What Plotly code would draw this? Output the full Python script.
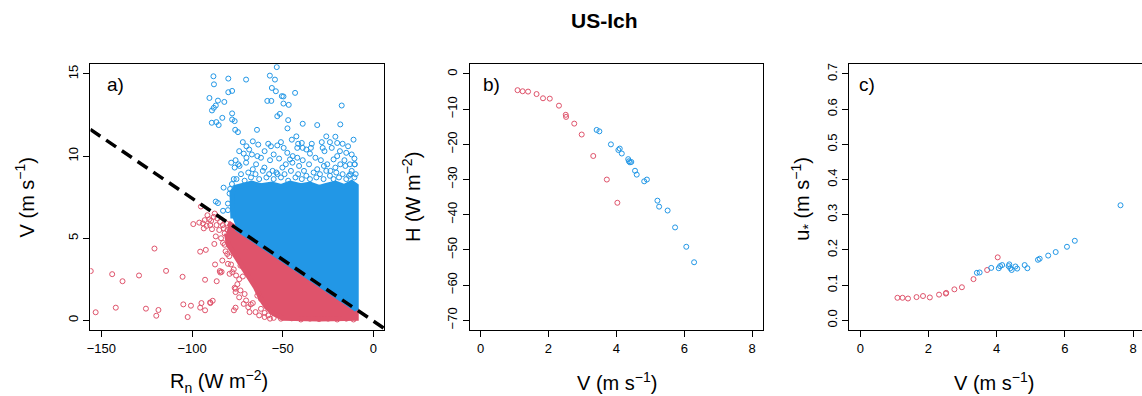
import plotly.graph_objects as go

W, H = 1142, 396
RED = "#DF536B"
BLUE = "#2297E6"
FONT = "Liberation Sans"

# ---------------- Panel a data (Rn, V) ----------------
a_blue_rn = [-88.2, -87.9, -80.0, -70.2, -53.3, -57.1, -54.3,
             -90.4, -85.7, -82.2, -80.0, -77.9, -86.9, -88.0, -89.0,
             -89.1, -86.6, -85.3, -83.3, -77.9, -77.9, -76.5, -76.2, -74.7,
             -64.2, -58.5, -56.3, -56.0, -53.8, -50.5, -49.6, -49.6, -46.7,
             -43.2, -53.0, -51.6, -47.0, -47.4, -39.0, -31.0, -17.5, -18.3, -21.0,
             -45.0, -42.5, -41.5, -39.5, -39.0, -42.0,
             -72.0, -70.0, -66.5, -63.5, -58.0, -56.5, -53.0, -51.0,
             -34.0, -34.5, -28.5, -28.0, -24.0, -23.0, -17.0, -15.0, -10.5, -10.3,
             -71.5, -76.0, -74.5, -70.0, -67.0, -64.0, -62.0, -57.0, -52.0, -47.5,
             -44.5, -42.0, -39.0, -35.0, -29.0, -25.5, -20.0, -16.0, -13.0,
             -78.4, -76.5, -73.8, -70.2, -66.5, -64.7, -60.1, -55.6, -52.9, -50.2,
             -48.3, -44.7, -41.0, -38.3, -35.5, -31.0, -27.3, -23.7, -21.0, -18.3,
             -15.5, -12.8, -10.4,
             -82.6, -86.9, -85.7, -80.2, -79.3, -82.9, -80.2, -78.0, -77.0, -79.0,
             -75.5, -73.0, -71.0, -69.0, -67.5, -65.0, -63.0, -61.0, -59.0, -57.5,
             -55.0, -53.5, -51.0, -49.0, -47.0, -45.5, -43.0, -41.5, -39.5, -37.0,
             -35.0, -33.0, -31.5, -29.5, -27.5, -26.0, -24.0, -22.0, -20.5, -19.0,
             -17.0, -15.0, -13.5, -12.0, -10.5, -9.8,
             -74.0, -68.5, -60.0, -55.0, -49.5, -46.0, -37.0, -32.0, -27.0, -22.0,
             -18.5, -12.0, -14.0, -20.0, -26.0, -11.0]
a_blue_v = [14.86, 14.37, 14.72, 14.66, 15.42, 14.90, 14.66,
            13.54, 13.38, 13.30, 13.89, 13.97, 13.08, 12.94, 12.78,
            12.03, 12.07, 11.89, 12.33, 12.60, 12.23, 12.13, 11.60, 11.46,
            11.60, 13.36, 13.36, 14.15, 13.95, 13.65, 13.63, 13.20, 13.12,
            13.85, 12.43, 12.57, 12.19, 11.69, 11.97, 11.89, 13.08, 11.93, 11.18,
            11.00, 11.20, 10.75, 10.80, 10.50, 10.50,
            10.85, 10.60, 10.90, 10.70, 10.75, 10.60, 10.65, 10.85,
            10.75, 10.50, 10.85, 10.50, 10.85, 10.50, 10.75, 10.20, 9.85, 9.50,
            10.15, 9.75, 9.50, 9.90, 10.10, 10.00, 9.90, 9.75, 9.85, 10.20,
            10.00, 9.90, 9.75, 10.15, 9.75, 9.50, 10.00, 9.75, 9.50,
            9.60, 9.30, 9.40, 9.60, 9.20, 9.50, 9.30, 9.10, 8.90, 9.30,
            9.50, 9.60, 9.40, 9.10, 9.50, 9.20, 9.40, 9.10, 9.30, 9.50,
            9.40, 8.90, 9.50,
            8.08, 7.23, 7.14, 7.11, 7.72, 6.67, 6.71, 8.30, 8.60, 8.00,
            8.60, 8.90, 8.50, 9.00, 8.70, 8.90, 8.60, 9.10, 8.70, 8.90,
            8.60, 9.00, 8.70, 8.90, 8.50, 9.10, 8.70, 8.90, 8.60, 8.80,
            8.60, 9.00, 8.70, 8.90, 8.60, 9.10, 8.80, 8.60, 9.00, 8.70,
            8.90, 8.60, 8.80, 9.10, 8.70, 8.90,
            10.30, 10.40, 10.30, 10.10, 10.50, 9.80, 10.40, 9.90, 10.30, 9.80,
            10.30, 10.10, 10.60, 10.80, 11.20, 11.00]

a_red_rn = [-95.1, -99.3, -94.0, -93.0, -92.0, -90.5, -90.0, -89.5, -89.0,
            -86.9, -87.7, -95.5, -92.4, -120.7, -114.3, -129.2, -144.0, -138.3,
            -105.2, -92.8, -86.4, -83.7, -155.8, -153.1, -142.0, -125.4, -118.5,
            -119.7, -104.8, -100.6, -102.4, -95.5, -94.8, -92.8, -90.0, -88.6,
            -76.5, -76.0, -76.0, -77.8, -83.3, -80.6, -82.9, -87.3, -84.7, -80.2,
            -68.3, -76.9, -84.4, -79.3, -75.7, -72.0, -76.0, -73.3, -70.2, -66.5,
            -67.6, -89.9, -71.0, -74.0, -73.3,
            -85.0, -83.0, -82.0, -84.0, -81.0, -86.0, -88.0,
            -62.0, -60.0, -58.0, -55.0, -51.0, -45.0, -40.0, -35.0, -30.0, -25.0,
            -20.0, -15.0, -11.0, -64.0, -62.0,
            -82.0, -81.5, -79.5, -78.5, -77.0, -75.0, -74.0, -71.5, -69.0, -65.0,
            -63.0, -60.0, -57.0, -80.5, -82.5, -84.5, -86.5, -87.5, -91.5, -96.0,
            -93.5]
a_red_v = [6.93, 5.86, 5.90, 6.10, 5.75, 6.15, 5.80, 6.05, 5.55,
           5.11, 4.65, 4.18, 4.29, 4.37, 3.01, 2.73, 2.81, 2.38,
           2.65, 2.47, 2.38, 2.95, 3.00, 0.49, 0.77, 0.71, 0.63,
           0.28, 0.97, 0.89, 0.20, 0.77, 1.05, 0.61, 1.09, 1.19,
           1.98, 1.72, 0.77, 2.93, 3.64, 4.04, 4.71, 3.40, 3.00, 3.44,
           0.50, 0.61, 2.91, 2.83, 2.73, 2.67, 1.92, 1.82, 1.21, 1.05,
           0.97, 1.05, 1.60, 2.50, 3.33,
           5.50, 5.80, 5.30, 5.00, 5.90, 6.20, 6.30,
           0.70, 0.45, 0.30, 0.15, 0.10, 0.12, 0.05, 0.10, 0.08, 0.10,
           0.05, 0.10, 0.05, 1.50, 1.30,
           4.60, 4.20, 3.90, 3.40, 3.10, 2.20, 1.40, 1.00, 0.80, 0.50,
           0.30, 0.20, 0.10, 5.50, 5.60, 6.00, 5.80, 6.50, 6.40, 5.95,
           5.60]

# outlines of the dense (saturated) parts of the point clouds
a_blue_core_rn = [-75.5, -9.5, -9.5, -12, -16, -21, -25, -30, -35, -40, -46,
                  -51, -56, -62, -67, -72, -76, -78, -78, -77.5]
a_blue_core_v = [5.60, 0.66, 8.20, 8.40, 8.15, 8.35, 8.25, 8.10, 8.30, 8.20, 8.35,
                 8.15, 8.30, 8.20, 8.35, 8.25, 8.10, 7.80, 7.00, 6.20]
a_red_core_rn = [-80, -9.5, -9.5, -30, -50, -55, -59, -62, -65, -69, -73, -77, -80, -81]
a_red_core_v = [5.93, 0.66, 0.12, 0.08, 0.12, 0.40, 0.80, 1.30, 2.00, 2.70, 3.40, 4.00,
                4.60, 5.30]

# threshold line V = slope * Rn + intercept
line_rn = [-156, 6]
line_slope = -0.0748
line_intercept = -0.05

# ---------------- Panels b, c data ----------------
red_V = [1.09, 1.24, 1.40, 1.65, 1.84, 2.04, 2.31, 2.51, 2.52, 2.76, 2.98, 3.32, 3.72, 4.03]
red_H = [-4.6, -4.9, -5.0, -5.7, -6.9, -7.0, -9.0, -11.6, -12.2, -14.1, -17.2, -23.3, -30.0, -36.6]
red_ustar = [0.064, 0.064, 0.062, 0.066, 0.069, 0.065, 0.073, 0.076, 0.078, 0.088, 0.094,
             0.117, 0.143, 0.179]

blue_V = [3.42, 3.50, 3.84, 4.06, 4.10, 4.16, 4.35, 4.37, 4.40, 4.44, 4.55, 4.60, 4.82,
          4.90, 5.21, 5.26, 5.51, 5.73, 6.06, 6.29, 7.63]
blue_H = [-15.9, -16.3, -20.0, -21.6, -21.2, -22.6, -24.2, -24.8, -25.1, -25.0, -27.5,
          -28.6, -30.5, -30.0, -36.0, -37.7, -38.8, -43.6, -49.1, -53.5, None]
blue_ustar = [0.135, 0.136, 0.149, 0.148, 0.154, 0.157, 0.154, 0.159, 0.148, 0.143, 0.153,
              0.147, 0.157, 0.148, 0.172, 0.175, 0.184, 0.194, 0.209, 0.226, 0.327]

# ticks
a_xticks = [-150, -100, -50, 0]
a_yticks = [0, 5, 10, 15]
bc_xticks = [0, 2, 4, 6, 8]
b_yticks = [0, -10, -20, -30, -40, -50, -60, -70]
c_yticks = [0.0, 0.1, 0.2, 0.3, 0.4, 0.5, 0.6, 0.7]

fig = go.Figure()


def pts(x, y, color, xa, ya):
    return go.Scatter(x=x, y=y, mode="markers", xaxis=xa, yaxis=ya, showlegend=False,
                      hoverinfo="skip",
                      marker=dict(symbol="circle-open", size=5, color=color,
                                  line=dict(width=1, color=color)))


def core(x, y, color):
    return go.Scatter(x=x, y=y, mode="lines", fill="toself", fillcolor=color,
                      line=dict(color=color, width=5), xaxis="x", yaxis="y",
                      showlegend=False, hoverinfo="skip")


fig.add_trace(core(a_red_core_rn, a_red_core_v, RED))
fig.add_trace(core(a_blue_core_rn, a_blue_core_v, BLUE))
fig.add_trace(pts(a_red_rn, a_red_v, RED, "x", "y"))
fig.add_trace(pts(a_blue_rn, a_blue_v, BLUE, "x", "y"))
fig.add_trace(go.Scatter(x=line_rn, y=[line_slope * r + line_intercept for r in line_rn],
                         mode="lines", xaxis="x", yaxis="y", showlegend=False,
                         hoverinfo="skip",
                         line=dict(color="black", width=3.5, dash="12px,7px")))

fig.add_trace(pts(red_V, red_H, RED, "x2", "y2"))
fig.add_trace(pts(blue_V, blue_H, BLUE, "x2", "y2"))
fig.add_trace(pts(red_V, red_ustar, RED, "x3", "y3"))
fig.add_trace(pts(blue_V, blue_ustar, BLUE, "x3", "y3"))

ytop, ybot = 63.3, 330.0
ydom = [1 - ybot / H, 1 - ytop / H]

axis_common = dict(showline=True, linecolor="black", linewidth=1, ticks="outside",
                   ticklen=6, tickwidth=1, tickcolor="black", showgrid=False,
                   zeroline=False, tickfont=dict(family=FONT, size=13, color="black"))

fig.update_layout(
    width=W, height=H, margin=dict(l=0, r=0, t=0, b=0),
    paper_bgcolor="white", plot_bgcolor="white",
    xaxis=dict(domain=[86.7 / W, 381.7 / W], range=[-156, 6], tickvals=a_xticks,
               anchor="y", mirror=True, **axis_common),
    yaxis=dict(domain=ydom, range=[-0.6, 15.6], tickvals=a_yticks, tickangle=-90,
               anchor="x", mirror=True, **axis_common),
    xaxis2=dict(domain=[467.3 / W, 761.7 / W], range=[-0.32, 8.32], tickvals=bc_xticks,
                anchor="y2", mirror=True, **axis_common),
    yaxis2=dict(domain=ydom, range=[-72.8, 2.8], tickvals=b_yticks, tickangle=-90,
                anchor="x2", mirror=True, **axis_common),
    xaxis3=dict(domain=[848.3 / W, 1.0], range=[-0.32, 8.26], tickvals=bc_xticks,
                anchor="y3", mirror=True, **axis_common),
    yaxis3=dict(domain=ydom, range=[-0.028, 0.728], tickvals=c_yticks, tickangle=-90,
                tickformat=".1f", anchor="x3", mirror=False, **axis_common),
)


def ann(text, x, y, size, angle=0):
    fig.add_annotation(text=text, x=x / W, y=1 - y / H, xref="paper", yref="paper",
                       showarrow=False, textangle=angle, xanchor="center", yanchor="middle",
                       font=dict(family=FONT, size=size, color="black"))


ann("<b>US-Ich</b>", 603, 20, 21)
ann("a)", 111.7, 84, 19)
ann("b)", 489.5, 84, 19)
ann("c)", 865.7, 84, 19)
ann("R<sub>n</sub> (W m<sup>−2</sup>)", 215.7, 381, 20)
ann("V (m s<sup>−1</sup>)", 615, 381, 20)
ann("V (m s<sup>−1</sup>)", 993, 381, 20)
ann("V (m s<sup>−1</sup>)", 21, 197, 20, -90)
ann("H (W m<sup>−2</sup>)", 409, 197, 20, -90)
ann("u<sub>*</sub> (m s<sup>−1</sup>)", 801, 198, 20, -90)

fig.write_html("out.html")
